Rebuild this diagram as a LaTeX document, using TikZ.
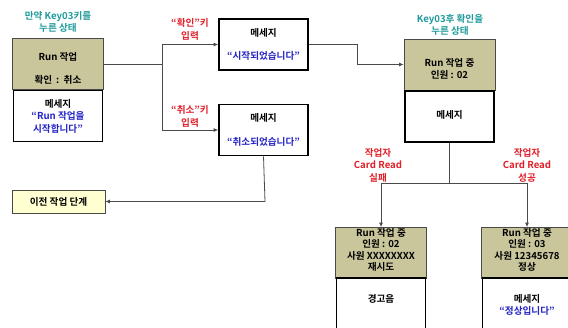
\documentclass[tikz,border=0pt]{standalone}
\usepackage{fontspec}
\setmainfont{Noto Sans CJK KR}[BoldFont={* Bold}]
\usetikzlibrary{arrows.meta}
\definecolor{olivec}{HTML}{C9C69C}
\definecolor{tealc}{HTML}{1F9A9A}
\definecolor{redc}{HTML}{E0202A}
\definecolor{bluec}{HTML}{2424C8}
\definecolor{linec}{HTML}{4A4A4A}
\definecolor{prevc}{HTML}{FFFFD2}
\tikzset{
  x=1pt, y=-1pt,
  ob/.style={draw=linec, line width=0.7pt, fill=olivec, inner sep=0pt, minimum width=91pt, minimum height=51pt},
  wb/.style={draw=black, line width=1.6pt, fill=white, inner sep=0pt, minimum width=89pt, minimum height=51pt},
  txt/.style={font=\bfseries\fontsize{9.6}{12.5}\selectfont, align=center, inner sep=0pt},
  tight/.style={font=\bfseries\fontsize{9.6}{11.2}\selectfont},
  conn/.style={draw=linec, line width=0.8pt},
  arr/.style={conn, -{Latex[length=4.5pt,width=4pt]}},
}
\begin{document}
\begin{tikzpicture}
\useasboundingbox (0,0) rectangle (568,328);
% captions
\node[txt, text=tealc] (cap1) at (58,22) {만약 Key03키를\\누른 상태};
\node[txt, text=tealc] (cap3) at (450,25) {Key03후 확인을\\누른 상태};
% first state
\node[ob] (b1) at (58,64) {};
\node[txt] (b1t1) at (58,57) {Run 작업};
\node[txt] (b1t2) at (58,80) {확인 \,:\, 취소};
\node[wb] (m1) at (58,116) {};
\node[txt] (m1t) at (58,116) {메세지\\\textcolor{bluec}{“Run 작업을}\\\textcolor{bluec}{시작합니다”}};
% message boxes
\node[wb] (s1) at (263.5,44.5) {};
\node[txt] (s1a) at (263.5,33) {메세지};
\node[txt, text=bluec] (s1b) at (263.5,56) {“시작되었습니다”};
\node[wb] (s2) at (263.5,130) {};
\node[txt] (s2a) at (263.5,118) {메세지};
\node[txt, text=bluec] (s2b) at (263.5,142) {“취소되었습니다”};
% labels
\node[txt, text=redc] (l1) at (190,29.5) {“확인”키\\입력};
\node[txt, text=redc] (l2) at (190,116.5) {“취소”키\\입력};
% previous step
\node[draw=linec, line width=0.6pt, fill=prevc, minimum width=93pt, minimum height=23pt, inner sep=0pt] (prev) at (58.5,201.5) {};
\node[txt] (prevt) at (58.5,201.5) {이전 작업 단계};
% state 3
\node[ob] (b3) at (449.5,64.5) {};
\node[txt] (b3t) at (449.5,69) {Run 작업 중\\인원 : 02};
\node[wb] (m3) at (449.5,116.5) {};
\node[txt] (m3t) at (449.5,115) {메세지};
% red labels bottom
\node[txt, text=redc] (l3) at (378,165) {작업자\\Card Read\\실패};
\node[txt, text=redc] (l4) at (527,165) {작업자\\Card Read\\성공};
% state 4
\node[ob] (b4) at (381,253) {};
\node[txt, tight] (b4t) at (381,250) {Run 작업 중\\인원 : 02\\사원 XXXXXXXX\\재시도};
\node[wb, minimum height=62pt] (m4) at (381,309) {};
\node[txt] (m4t) at (381,299) {경고음};
% state 5
\node[ob] (b5) at (527,253) {};
\node[txt, tight] (b5t) at (527,250) {Run 작업 중\\인원 : 03\\사원 12345678\\정상};
\node[wb, minimum height=62pt] (m5) at (527,309) {};
\node[txt] (m5t) at (527,305) {메세지\\\textcolor{bluec}{“정상입니다”}};
% connectors
\coordinate (j1) at (162,64);
\coordinate (j1a) at (162,44.5);
\coordinate (j1b) at (162,130);
\draw[conn] (b1.east |- j1) -- (j1);
\draw[conn] (j1a) -- (j1b);
\draw[arr] (j1a) -- (s1.west);
\draw[arr] (j1b) -- (s2.west);
\coordinate (j2) at (357,44.5);
\coordinate (j2b) at (357,64.5);
\draw[arr] (s1.east) -- (j2) -- (j2b) -- (b3.west);
\coordinate (j3) at (265,201.5);
\draw[arr] (s2.south) -- (j3) -- (prev.east);
\coordinate (j4) at (449.5,183);
\coordinate (j4a) at (381,183);
\coordinate (j4b) at (527,183);
\draw[conn] (m3.south) -- (j4);
\draw[conn] (j4a) -- (j4b);
\draw[arr] (j4a) -- (b4.north);
\draw[arr] (j4b) -- (b5.north);
\end{tikzpicture}
\end{document}
